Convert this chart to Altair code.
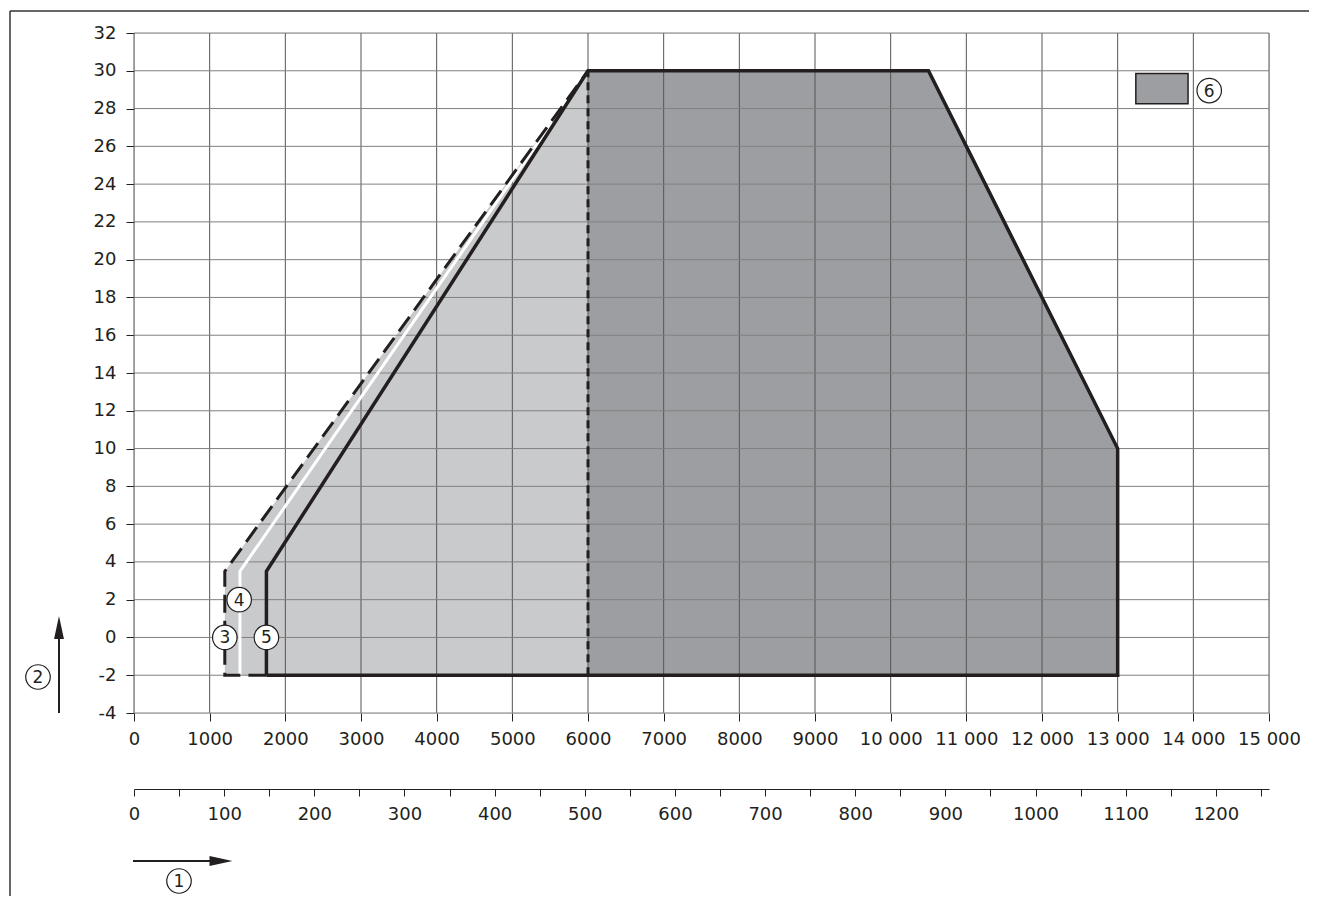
import altair as alt
import pandas as pd

# ---- axes ----
X_TICKS = list(range(0, 15001, 1000))
Y_TICKS = list(range(-4, 33, 2))
SEC_TICKS = list(range(0, 1251, 50))
SEC_MAX = 1259

# ---- regions ----
DARK_X = [6000, 10500, 13000]
DARK_Y = [30, 30, 10]
LIGHT_X = [1200, 6000]
LIGHT_Y = [3.5, 30]
BASE_Y = -2

# ---- boundary lines ----
SOLID_X = [1750, 1750, 6000, 10500, 13000, 13000, 1750]
SOLID_Y = [-2, 3.5, 30, 30, 10, -2, -2]
DASH_X = [1750, 1200, 1200, 6000]
DASH_Y = [-2, -2, 3.5, 30]
WHITE_X = [1400, 1400, 6000]
WHITE_Y = [-2, 3.5, 30]
SPLIT_X = [6000, 6000]
SPLIT_Y = [-2, 30]

# ---- circled markers ----
MARK_TEXT = ["3", "4", "5", "6"]
MARK_X = [1200, 1390, 1750, 14210]
MARK_Y = [0, 2, 0, 28.95]

# ---- legend swatch ----
SWATCH_X = [13240]
SWATCH_X2 = [13930]
SWATCH_Y = [28.25]
SWATCH_Y2 = [29.85]

INK = "#231f20"
DARK = "#9d9ea2"
LIGHT = "#c9cacc"
FONT = "DejaVu Sans"
LABEL_SIZE = 18

W, H = 1135, 680
CIRCLE_SIZE = 600
DIGIT_SIZE = 17

xs = alt.Scale(domain=[0, 15000], nice=False, zero=False)
ys = alt.Scale(domain=[-4, 32], nice=False, zero=False)

x_axis = alt.Axis(
    values=X_TICKS, grid=False, domain=False, tickSize=8, tickColor=INK,
    labelExpr="datum.value >= 10000 ? floor(datum.value/1000) + ' 000' : '' + datum.value",
    labelFont=FONT, labelFontSize=LABEL_SIZE, labelColor=INK, labelPadding=9,
    labelFlush=False, labelOverlap=False, title=None,
)
y_axis = alt.Axis(
    values=Y_TICKS, grid=False, domain=False, tickSize=8, tickColor=INK,
    labelExpr="'' + datum.value",
    labelFont=FONT, labelFontSize=LABEL_SIZE, labelColor=INK, labelPadding=10,
    labelFlush=False, labelOverlap=False, title=None,
)


def X(field="x"):
    return alt.X(f"{field}:Q", scale=xs, axis=x_axis)


def Y(field="y"):
    return alt.Y(f"{field}:Q", scale=ys, axis=y_axis)


def path_df(xv, yv):
    return pd.DataFrame({"x": xv, "y": yv, "i": list(range(len(xv)))})


light_df = pd.DataFrame({"x": LIGHT_X, "y": LIGHT_Y, "b": [BASE_Y] * len(LIGHT_X)})
dark_df = pd.DataFrame({"x": DARK_X, "y": DARK_Y, "b": [BASE_Y] * len(DARK_X)})

light = alt.Chart(light_df).mark_area(color=LIGHT, interpolate="linear").encode(
    x=X(), y=Y(), y2="b:Q",
)
dark = alt.Chart(dark_df).mark_area(color=DARK, interpolate="linear").encode(
    x=X(), y=Y(), y2="b:Q",
)

vgrid = alt.Chart(pd.DataFrame({"x": X_TICKS})).mark_rule(color="#555555", strokeWidth=1).encode(
    x=X()
)
hgrid = alt.Chart(pd.DataFrame({"y": Y_TICKS})).mark_rule(color="#808080", strokeWidth=1).encode(
    y=Y()
)


def line_layer(xv, yv, **kw):
    return alt.Chart(path_df(xv, yv)).mark_line(interpolate="linear", **kw).encode(
        x=X(), y=Y(), order="i:Q",
    )


white = line_layer(WHITE_X, WHITE_Y, color="white", strokeWidth=3, strokeJoin="miter")
dashed = line_layer(DASH_X, DASH_Y, color=INK, strokeWidth=3, strokeDash=[18, 8],
                    strokeJoin="miter")
split = line_layer(SPLIT_X, SPLIT_Y, color=INK, strokeWidth=3, strokeDash=[8, 5])
solid = line_layer(SOLID_X, SOLID_Y, color=INK, strokeWidth=3.5, strokeJoin="miter")

swatch = alt.Chart(pd.DataFrame({"x": SWATCH_X, "x2": SWATCH_X2, "y": SWATCH_Y, "y2": SWATCH_Y2})).mark_rect(
    color=DARK, stroke=INK, strokeWidth=1.5
).encode(x=X(), x2="x2:Q", y=Y(), y2="y2:Q")

marks_df = pd.DataFrame({"x": MARK_X, "y": MARK_Y, "t": MARK_TEXT})
circles = alt.Chart(marks_df).mark_point(
    shape="circle", size=CIRCLE_SIZE, filled=False, fill="white", stroke=INK, strokeWidth=1.2, opacity=1
).encode(x=X(), y=Y())
digits = alt.Chart(marks_df).mark_text(
    font=FONT, fontSize=DIGIT_SIZE, color=INK, align="center", baseline="middle", dy=1
).encode(x=X(), y=Y(), text="t:N")

one = pd.DataFrame({"a": [0]})

# axis direction arrows and labels (outside plot area)
arrow_up = alt.Chart(one).mark_rule(color=INK, strokeWidth=2).encode(
    x=alt.value(-75), y=alt.value(680), y2=alt.value(595)
)
arrow_up_head = alt.Chart(one).mark_point(
    shape="M0,-1L-0.43,1L0.43,1Z", filled=True, color=INK, size=529, opacity=1
).encode(x=alt.value(-75), y=alt.value(594.5))
arrow_right = alt.Chart(one).mark_rule(color=INK, strokeWidth=2).encode(
    x=alt.value(-1), x2=alt.value(85), y=alt.value(828)
)
arrow_right_head = alt.Chart(one).mark_point(
    shape="M1,0L-1,-0.43L-1,0.43Z", filled=True, color=INK, size=529, opacity=1
).encode(x=alt.value(87), y=alt.value(828))

out_circles = alt.Chart(pd.DataFrame({"px": [-96, 45], "py": [644, 848], "t": ["2", "1"]}))
out_c = out_circles.mark_point(
    shape="circle", size=CIRCLE_SIZE, filled=False, fill="white", stroke=INK, strokeWidth=1.2, opacity=1
).encode(x=alt.X("px:Q", scale=None), y=alt.Y("py:Q", scale=None))
out_t = out_circles.mark_text(
    font=FONT, fontSize=DIGIT_SIZE, color=INK, align="center", baseline="middle", dy=1
).encode(x=alt.X("px:Q", scale=None), y=alt.Y("py:Q", scale=None), text="t:N")

# page frame
frame_top = alt.Chart(one).mark_rule(color="#333333", strokeWidth=1.5).encode(
    x=alt.value(-124), x2=alt.value(1190), y=alt.value(-22)
)
frame_left = alt.Chart(one).mark_rule(color="#333333", strokeWidth=1.5).encode(
    x=alt.value(-124), y=alt.value(-22), y2=alt.value(870)
)

main = alt.layer(
    light, dark, vgrid, hgrid, white, dashed, split, solid, swatch, circles, digits,
    arrow_up, arrow_up_head, arrow_right, arrow_right_head, out_c, out_t,
    frame_top, frame_left,
)

sec_axis = alt.Axis(
    orient="bottom", offset=76, values=SEC_TICKS, grid=False, domain=True,
    domainColor=INK, domainWidth=1, tickSize=7, tickColor=INK,
    labelExpr="datum.value % 100 == 0 ? '' + datum.value : ''",
    labelFont=FONT, labelFontSize=LABEL_SIZE, labelColor=INK, labelPadding=9,
    labelFlush=False, labelOverlap=False, title=None,
)
sec = alt.Chart(pd.DataFrame({"s": SEC_TICKS})).mark_point(opacity=0).encode(
    x=alt.X("s:Q", scale=alt.Scale(domain=[0, SEC_MAX], nice=False, zero=False), axis=sec_axis)
)

chart = alt.layer(main, sec).resolve_scale(x="independent").properties(
    width=W, height=H,
    autosize=alt.AutoSizeParams(type="none"),
    padding={"left": 126, "top": 25, "right": 40, "bottom": 183},
).configure_view(stroke=None).configure(font=FONT)

chart.save("out.html", embed_options={"renderer": "svg", "actions": False})
